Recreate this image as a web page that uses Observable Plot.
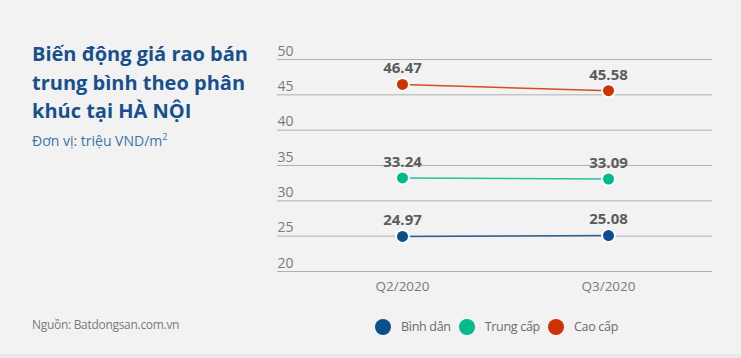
<!DOCTYPE html>
<html>
<head>
<meta charset="utf-8">
<script src="https://cdn.jsdelivr.net/npm/d3@7"></script>
<script src="https://cdn.jsdelivr.net/npm/@observablehq/plot@0.6"></script>
<style>
  html, body { margin: 0; padding: 0; }
  body { width: 741px; height: 358px; background: #f2f2f2; position: relative; overflow: hidden; font-family: "Open Sans", sans-serif; }
  #stripe { position: absolute; left: 0; top: 354px; width: 741px; height: 4px; background: #e8e8e8; }
  #title { position: absolute; left: 32px; top: 40px; width: 240px; font-size: 20px; font-weight: 700; line-height: 28.5px; color: #18508e; }
  #subtitle { position: absolute; left: 32px; top: 130px; font-size: 14px; color: #3a72ad; }
  #subtitle sup { font-size: 9px; vertical-align: 6px; }
  #chart { position: absolute; left: 0; top: 0; }
  #source { position: absolute; left: 32px; top: 316px; font-size: 12px; color: #7a7a7a; letter-spacing: -0.3px; }
  #legend { position: absolute; left: 375px; top: 318px; display: flex; align-items: center; font-size: 12.5px; color: #6a6a6a; letter-spacing: -0.3px; }
  #legend .sw { width: 16px; height: 16px; border-radius: 50%; display: inline-block; margin-right: 10px; }
  #legend .it { display: flex; align-items: center; margin-right: 8px; }
</style>
</head>
<body>
<div id="stripe"></div>
<div id="chart"></div>
<div id="title">Biến động giá rao bán trung bình theo phân khúc tại HÀ NỘI</div>
<div id="subtitle">Đơn vị: triệu VND/m<sup>2</sup></div>
<div id="source">Nguồn: Batdongsan.com.vn</div>
<div id="legend"></div>
<script>
const periods = ["Q2/2020", "Q3/2020"];
const seriesNames = ["Bình dân", "Trung cấp", "Cao cấp"];
const binhDan = [24.97, 25.08];
const trungCap = [33.24, 33.09];
const caoCap = [46.47, 45.58];
const colors = ["#0b4f8c", "#00ba8a", "#cc3300"];
const yTicks = [20, 25, 30, 35, 40, 45, 50];

const seriesValues = [binhDan, trungCap, caoCap];
const data = [];
seriesNames.forEach((s, i) => periods.forEach((p, j) => data.push({series: s, period: p, value: seriesValues[i][j]})));

const chart = Plot.plot({
  width: 741,
  height: 300,
  marginLeft: 277,
  marginRight: 29,
  marginTop: 59,
  marginBottom: 29,
  style: {background: "transparent", fontFamily: "Open Sans, sans-serif"},
  x: {type: "point", domain: periods, range: [402, 608], padding: 0},
  y: {domain: [20, 50], ticks: yTicks},
  color: {domain: seriesNames, range: colors},
  marks: [
    Plot.gridY(yTicks, {stroke: "#b0b0b0", strokeOpacity: 1, strokeWidth: 1}),
    Plot.axisY(yTicks, {tickSize: 0, tickPadding: 0, textAnchor: "start", lineAnchor: "bottom", dy: -4, fontSize: 14, fill: "#7a7a7a", label: null}),
    Plot.axisX({tickSize: 0, tickPadding: 10, fontSize: 13.5, fill: "#7a7a7a", label: null}),
    Plot.line(data, {x: "period", y: "value", z: "series", stroke: "series", strokeWidth: 1.5, strokeOpacity: 0.85}),
    Plot.dot(data, {x: "period", y: "value", fill: "series", stroke: "white", strokeWidth: 2, r: 6.5}),
    Plot.text(data, {x: "period", y: "value", text: d => d.value.toFixed(2), dy: -16, fontSize: 15, fontWeight: 700, fill: "#5c5c5c"})
  ]
});
document.getElementById("chart").appendChild(chart);

const legend = document.getElementById("legend");
seriesNames.forEach((s, i) => {
  const it = document.createElement("div");
  it.className = "it";
  it.innerHTML = `<span class="sw" style="background:${colors[i]}"></span><span>${s}</span>`;
  legend.appendChild(it);
});
</script>
</body>
</html>
